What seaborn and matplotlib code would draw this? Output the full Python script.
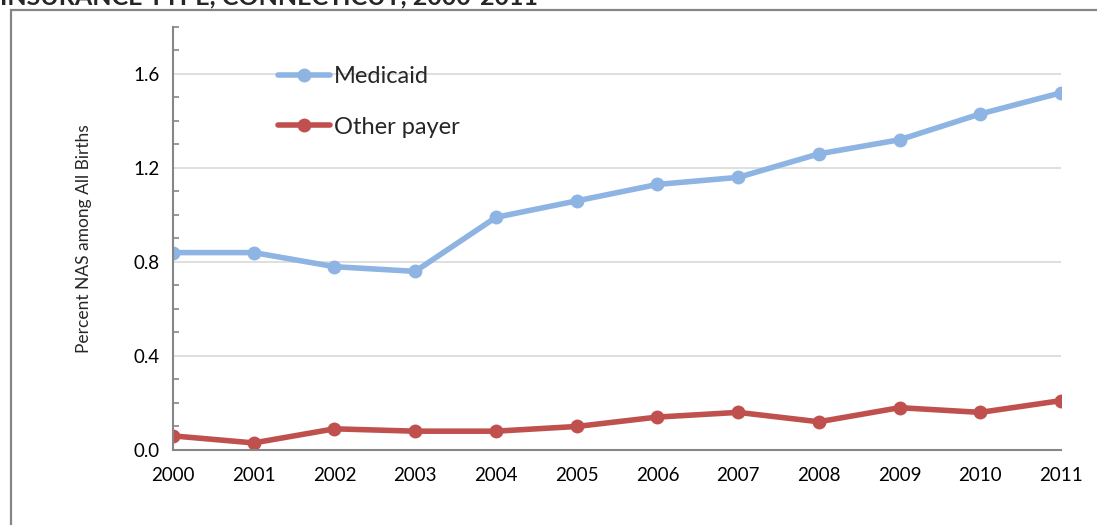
import pandas as pd
import numpy as np
import matplotlib
matplotlib.use("Agg")
import matplotlib.pyplot as plt
import seaborn as sns
from matplotlib.patches import Rectangle
from matplotlib.ticker import MultipleLocator

# ================================
# DATA
# ================================
years = [2000, 2001, 2002, 2003, 2004, 2005, 2006, 2007, 2008, 2009, 2010, 2011]
medicaid = [0.84, 0.84, 0.78, 0.76, 0.99, 1.06, 1.13, 1.16, 1.26, 1.32, 1.43, 1.52]
other_payer = [0.06, 0.03, 0.09, 0.08, 0.08, 0.10, 0.14, 0.16, 0.12, 0.18, 0.16, 0.21]
series_names = ["Medicaid", "Other payer"]
title_text = "INSURANCE TYPE, CONNECTICUT, 2000-2011"
y_label = "Percent NAS among All Births"

df = pd.DataFrame({
    "Year": years * 2,
    "Percent": medicaid + other_payer,
    "Payer": [series_names[0]] * len(years) + [series_names[1]] * len(years),
})

# ================================
# STYLE
# ================================
sns.set_style("white")
plt.rcParams["font.family"] = ["Lato", "DejaVu Sans"]
grey = "#868686"
palette = {"Medicaid": "#8DB4E2", "Other payer": "#C0504D"}

fig = plt.figure(figsize=(10.97, 5.25), dpi=100)
ax = fig.add_axes([0.1577, 0.1429, 0.8095, 0.8057])

sns.lineplot(data=df, x="Year", y="Percent", hue="Payer", palette=palette,
             marker="o", markersize=10, markeredgewidth=0, linewidth=4, ax=ax)

ax.set_xlim(2000, 2011)
ax.set_ylim(0, 1.8)
ax.set_xticks(years)
ax.set_xticklabels([str(y) for y in years])
ax.set_yticks([0.0, 0.4, 0.8, 1.2, 1.6])
ax.set_yticklabels(["0.0", "0.4", "0.8", "1.2", "1.6"])
ax.yaxis.set_minor_locator(MultipleLocator(0.1))
ax.grid(axis="y", which="major", color="#D9D9D9", linewidth=1.2)
ax.set_axisbelow(True)

for side in ["top", "right"]:
    ax.spines[side].set_visible(False)
for side in ["left", "bottom"]:
    ax.spines[side].set_color(grey)
    ax.spines[side].set_linewidth(1.5)

ax.tick_params(axis="both", which="major", length=6, width=1.5, color=grey,
               labelsize=13.5, labelcolor="black", direction="out")
ax.tick_params(axis="y", which="minor", length=4, width=1.2, color=grey,
               direction="in", left=True)
ax.tick_params(axis="x", pad=6)

ax.set_xlabel("")
ax.set_ylabel(y_label, fontsize=12.5, labelpad=30)

handles, labels = ax.get_legend_handles_labels()
ax.legend(handles, labels, loc="upper left", bbox_to_anchor=(0.108, 0.93),
          frameon=False, fontsize=17, handlelength=2.2, handletextpad=0.15,
          labelspacing=1.25, borderaxespad=0)

# chart border and clipped title
fig.patches.append(Rectangle((11 / 1097, -0.1), 1.2, 1.1 - 10 / 525,
                             transform=fig.transFigure, fill=False,
                             edgecolor=grey, linewidth=1.6))
fig.text(0.0, 1 - 4 / 525, title_text, fontsize=18, fontweight="bold",
         ha="left", va="baseline")

fig.savefig("out.png", dpi=100)
